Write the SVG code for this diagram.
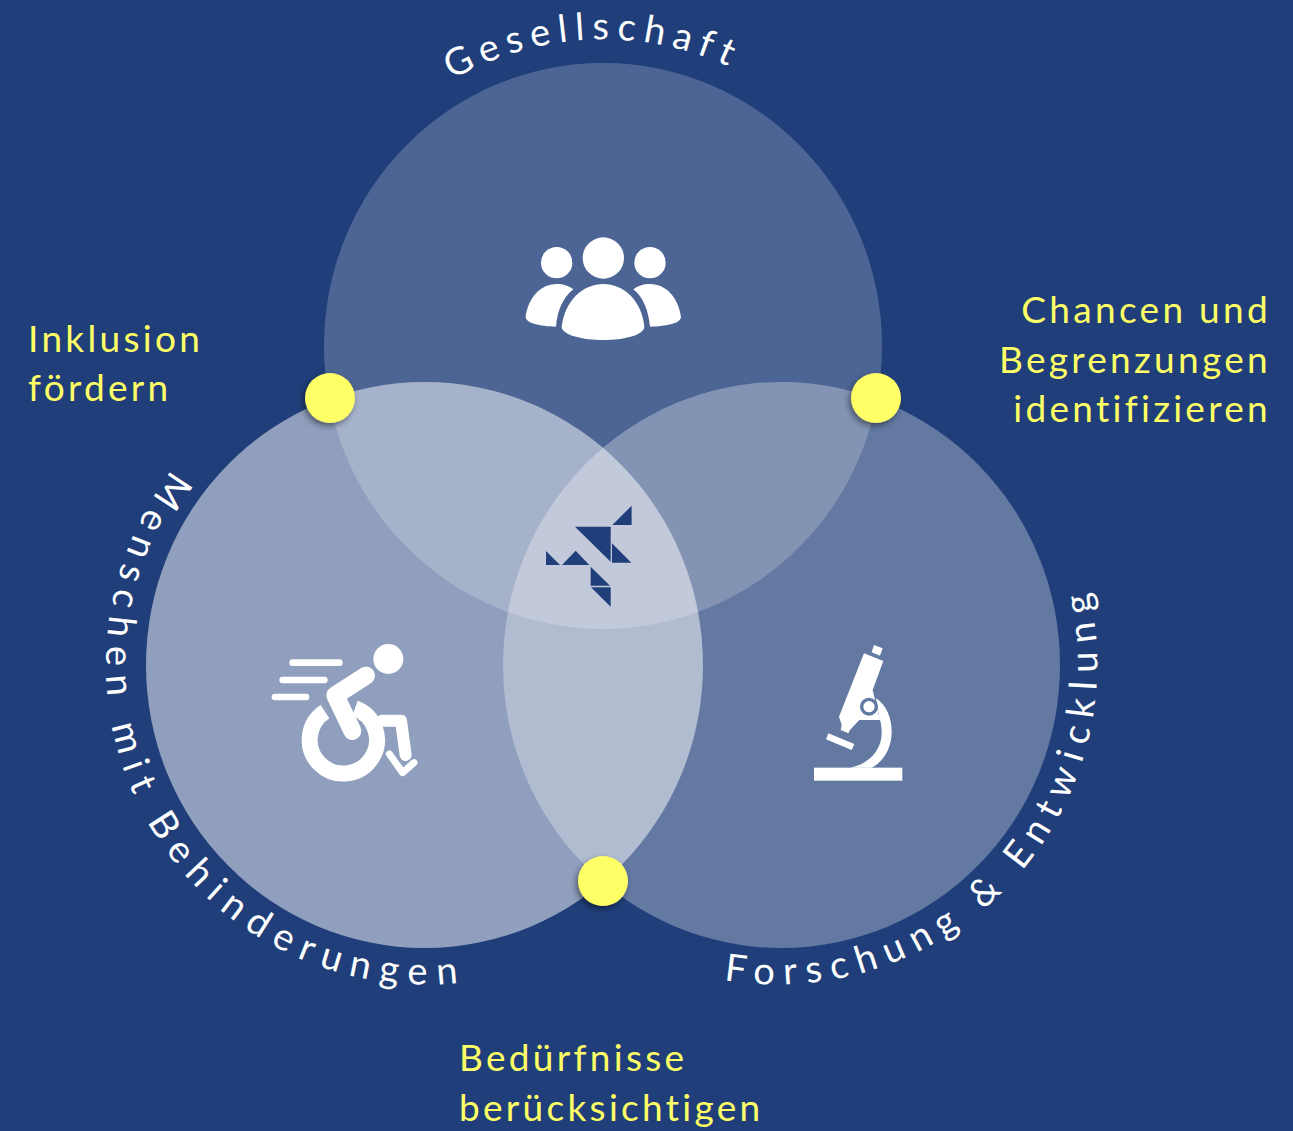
<svg xmlns="http://www.w3.org/2000/svg" xmlns:xlink="http://www.w3.org/1999/xlink" width="1293" height="1131" viewBox="0 0 1293 1131">
<style>
text{font-family:"Lato","Open Sans","Liberation Sans",sans-serif}
.y{fill:#FFFF66;font-size:37px;letter-spacing:3.3px}
.a{fill:#fff;font-size:38px}
.w{fill:#fff}
.s{fill:none;stroke:#fff}
.l{fill:#203F7A}
.d{fill:#FFFF66;filter:url(#sh)}
</style>
<defs>
<filter id="sh" x="-30%" y="-30%" width="170%" height="170%"><feDropShadow dx="-2" dy="3" stdDeviation="3" flood-color="#000" flood-opacity=".45"/></filter>
<path id="p1" d="M452,80 A303 303 0 0 1 760,83"/>
<path id="p2" d="M172,470 A320 320 0 0 0 480,980"/>
<path id="p3" d="M724,980 A320 320 0 0 0 1083,570"/>
</defs>
<rect width="1293" height="1131" fill="#203F7A"/>
<g id="circle-gesellschaft"><ellipse cx="603" cy="346" rx="279" ry="283" fill="#fff" fill-opacity=".2"/>
<text class="a" letter-spacing="7.600"><textPath xlink:href="#p1" href="#p1">Gesellschaft</textPath></text>
<g transform="translate(500 210) scale(.3333)">
<circle class="w" cx="310" cy="144" r="62"/><circle class="w" cx="170" cy="158" r="47"/><circle class="w" cx="450" cy="158" r="47"/>
<path class="w" d="M185,350 C195,270 250,222 310,222 C370,222 425,270 433,350 C433,375 370,390 310,390 C250,390 185,375 185,350Z"/>
<path class="w" d="M77,320 C85,265 120,222 170,222 C190,222 208,228 220,238 C190,262 172,300 168,350 C120,348 77,340 77,320Z"/>
<path class="w" d="M543,320 C535,265 500,222 450,222 C430,222 412,228 400,238 C430,262 445,300 450,350 C500,348 543,340 543,320Z"/>
</g></g>
<g id="circle-menschen"><ellipse cx="424.500" cy="665" rx="278.500" ry="283" fill="#fff" fill-opacity=".5"/>
<text class="a" letter-spacing="9.720"><textPath xlink:href="#p2" href="#p2">Menschen mit Behinderungen</textPath></text>
<g transform="translate(260 630) scale(.3333)">
<circle class="w" cx="385" cy="87" r="45"/>
<path class="s" stroke-width="20" stroke-linecap="round" d="M98,98H238M68,150H193M45,201H138"/>
<path class="s" stroke-width="48" d="M195,245A101 101 0 1 0 285,235"/>
<path class="s" stroke-width="54" stroke-linecap="round" stroke-linejoin="round" d="M318,137L226,196L277,303"/>
<path class="s" stroke-width="36" stroke-linecap="round" stroke-linejoin="round" d="M365,272H423L437,375"/>
<path class="s" stroke-width="21" stroke-linecap="round" stroke-linejoin="round" d="M388,372L428,428L462,398"/>
</g></g>
<g id="circle-forschung"><ellipse cx="781.500" cy="665" rx="278.500" ry="283" fill="#fff" fill-opacity=".3"/>
<text class="a" letter-spacing="9.350"><textPath xlink:href="#p3" href="#p3">Forschung &amp; Entwicklung</textPath></text>
<g transform="translate(800 635) scale(.3333)">
<rect class="w" x="42" y="398" width="265" height="39"/>
<polygon class="w" points="85,295 163,327 155,345 78,313"/>
<polygon class="w" points="222,30 248,40 240,62 215,52"/>
<path class="w" d="M192,55L250,78L218,165L240,255L178,255L150,285L145,295L122,285L125,270L117,245Z"/>
<path class="w" d="M228,190C260,210 275,250 275,290C275,340 250,380 215,398L150,398C200,390 245,350 245,295Q245,265 238,250Z"/>
<circle cx="207" cy="215" r="22" fill="#fff" stroke="#617AA3" stroke-width="10"/>
</g></g>
<g id="logo" class="l" transform="translate(520 490) scale(.3333)">
<polygon points="335,47 335,105 277,105"/>
<polygon points="165,110 272,110 272,215"/>
<polygon points="276,160 334,218 276,218"/>
<polygon points="78,183 120,225 78,225"/>
<polygon points="167,182 208,225 126,225"/>
<polygon points="212,230 270,287 212,287"/>
<polygon points="213,292 272,292 272,350"/>
</g>
<g id="dot-inklusion"><circle class="d" cx="330" cy="398" r="25"/>
<text class="y"><tspan x="28" y="352">Inklusion</tspan><tspan x="28" y="401">fördern</tspan></text></g>
<g id="dot-chancen"><circle class="d" cx="876" cy="398" r="25"/>
<text class="y" text-anchor="end"><tspan x="1271" y="323">Chancen und</tspan><tspan x="1271" y="373">Begrenzungen</tspan><tspan x="1271" y="422">identifizieren</tspan></text></g>
<g id="dot-beduerfnisse"><circle class="d" cx="603" cy="881" r="25"/>
<text class="y"><tspan x="459" y="1071">Bedürfnisse</tspan><tspan x="459" y="1121">berücksichtigen</tspan></text></g>
</svg>
